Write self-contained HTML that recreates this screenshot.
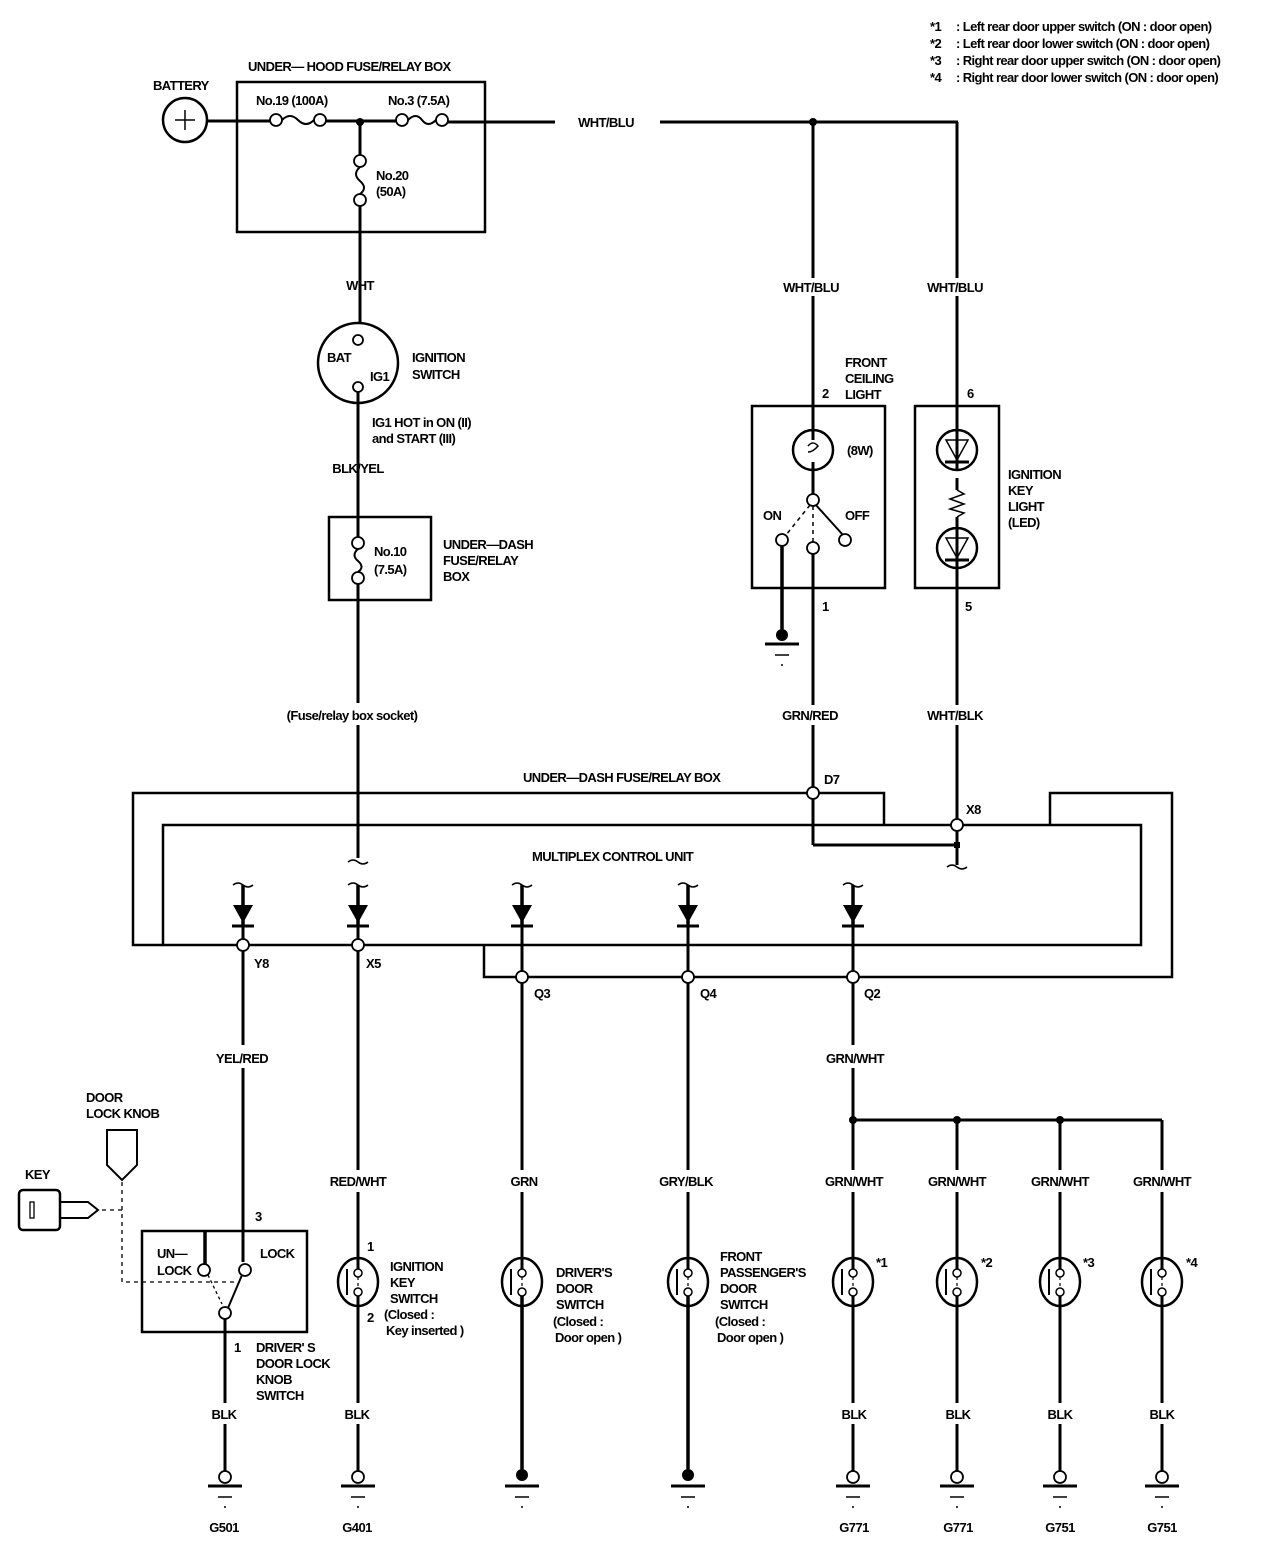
<!DOCTYPE html>
<html><head><meta charset="utf-8"><style>
html,body{margin:0;padding:0;background:#fff}
svg{display:block}
text{font-family:"Liberation Sans",sans-serif;font-weight:bold;font-size:13px;letter-spacing:-0.6px;fill:#000}
.m{text-anchor:middle}
</style></head><body>
<svg width="1264" height="1556" viewBox="0 0 1264 1556" xmlns="http://www.w3.org/2000/svg">
<defs>
 <g id="dsw">
  <ellipse cx="0" cy="0" rx="20" ry="24" fill="none" stroke="#000" stroke-width="2.5"/>
  <line x1="-11" y1="-13" x2="-11" y2="13" stroke="#000" stroke-width="2"/>
  <line x1="0" y1="-5" x2="0" y2="6" stroke="#000" stroke-width="1.2" stroke-dasharray="3,3"/>
  <circle cx="0" cy="-9" r="4" fill="#fff" stroke="#000" stroke-width="1.5"/>
  <circle cx="0" cy="10" r="4" fill="#fff" stroke="#000" stroke-width="1.5"/>
 </g>
 <g id="gnd">
  <line x1="-17" y1="9" x2="17" y2="9" stroke="#000" stroke-width="3"/>
  <line x1="-7" y1="20" x2="7" y2="20" stroke="#000" stroke-width="1.5"/>
  <line x1="-1" y1="30" x2="1" y2="30" stroke="#000" stroke-width="1.5"/>
 </g>
 <g id="diode">
  <path d="M-10,-2 Q-5,-6 0,-2 Q5,2 10,-2" fill="none" stroke="#000" stroke-width="1.5"/>
  <line x1="0" y1="-2" x2="0" y2="40" stroke="#000" stroke-width="3.5"/>
  <polygon points="-10,18 10,18 0,36" fill="#000"/>
  <line x1="-11" y1="39" x2="11" y2="39" stroke="#000" stroke-width="3"/>
 </g>
</defs>
<g stroke="#000" fill="none" stroke-width="3">
 <circle cx="185" cy="120" r="22" stroke-width="2.5"/>
 <line x1="175" y1="120" x2="195" y2="120" stroke-width="1.5"/>
 <line x1="185" y1="110" x2="185" y2="130" stroke-width="1.5"/>
 <rect x="237" y="82" width="248" height="150" stroke-width="2.5"/>
 <line x1="207" y1="121" x2="270" y2="121"/>
 <path d="M282,120 Q290,112 298,120 Q306,128 314,120" stroke-width="2"/>
 <line x1="326" y1="121" x2="396" y2="121"/>
 <path d="M408,120 Q416,112 422,120 Q428,128 436,120" stroke-width="2"/>
 <line x1="448" y1="122" x2="555" y2="122"/>
 <line x1="660" y1="122" x2="958" y2="122"/>
 <line x1="360" y1="121" x2="360" y2="155"/>
 <path d="M360,167 Q352,174 360,181 Q368,188 360,194" stroke-width="2"/>
 <line x1="360" y1="206" x2="360" y2="322"/>
 <circle cx="358" cy="363" r="40" stroke-width="2.5"/>
 <line x1="358" y1="382" x2="358" y2="517"/>
 <rect x="329" y="517" width="102" height="83" stroke-width="2.5"/>
 <line x1="358" y1="517" x2="358" y2="537"/>
 <path d="M358,549 Q351,555 358,561 Q365,567 358,572" stroke-width="2"/>
 <line x1="358" y1="584" x2="358" y2="703"/>
 <line x1="358" y1="725" x2="358" y2="858"/>
 <path d="M348,862 Q353,858 358,862 Q363,866 368,862" stroke-width="1.5"/>
 <line x1="813" y1="122" x2="813" y2="278"/>
 <line x1="813" y1="296" x2="813" y2="440"/>
 <rect x="752" y="406" width="133" height="182" stroke-width="2.5"/>
 <circle cx="813" cy="450" r="20" stroke-width="2.5"/>
 <path d="M808,446 Q813,440 818,446 Q813,452 808,452" stroke-width="1.5"/>
 <line x1="813" y1="462" x2="813" y2="494"/>
 <line x1="815" y1="504" x2="843" y2="535" stroke-width="2"/>
 <line x1="810" y1="505" x2="786" y2="535" stroke-width="1.5" stroke-dasharray="4,4"/>
 <line x1="813" y1="506" x2="813" y2="543" stroke-width="1.5" stroke-dasharray="4,4"/>
 <line x1="782" y1="545" x2="782" y2="635" stroke-width="3.5"/>
 <line x1="813" y1="553" x2="813" y2="705"/>
 <line x1="813" y1="725" x2="813" y2="845"/>
 <line x1="813" y1="845" x2="958" y2="845"/>
 <line x1="957" y1="122" x2="957" y2="278"/>
 <line x1="957" y1="296" x2="957" y2="470"/>
 <rect x="915" y="406" width="84" height="182" stroke-width="2.5"/>
 <line x1="957" y1="478" x2="957" y2="490"/>
 <path d="M957,490 L964,494 L950,499 L964,504 L950,509 L964,513 L957,517" stroke-width="1.5"/>
 <line x1="957" y1="517" x2="957" y2="705"/>
 <line x1="957" y1="725" x2="957" y2="865"/>
 <path d="M947,867 Q952,863 957,867 Q962,871 967,867" stroke-width="1.5"/>
 <path d="M884,825 L884,793 L133,793 L133,945 L163,945" stroke-width="2.5"/>
 <path d="M1050,825 L1050,793 L1172,793 L1172,977 L484,977 L484,945" stroke-width="2.5"/>
 <rect x="163" y="825" width="978" height="120" stroke-width="2.5"/>
 <line x1="243" y1="927" x2="243" y2="1045"/>
 <line x1="243" y1="1068" x2="243" y2="1262"/>
 <line x1="358" y1="927" x2="358" y2="1170"/>
 <line x1="358" y1="1192" x2="358" y2="1270"/>
 <line x1="522" y1="927" x2="522" y2="1170"/>
 <line x1="522" y1="1192" x2="522" y2="1270"/>
 <line x1="688" y1="927" x2="688" y2="1170"/>
 <line x1="688" y1="1192" x2="688" y2="1270"/>
 <line x1="853" y1="927" x2="853" y2="1045"/>
 <line x1="853" y1="1068" x2="853" y2="1170"/>
 <line x1="853" y1="1192" x2="853" y2="1270"/>
 <line x1="853" y1="1120" x2="1162" y2="1120"/>
 <line x1="957" y1="1120" x2="957" y2="1170"/><line x1="957" y1="1192" x2="957" y2="1270"/>
 <line x1="1060" y1="1120" x2="1060" y2="1170"/><line x1="1060" y1="1192" x2="1060" y2="1270"/>
 <line x1="1162" y1="1120" x2="1162" y2="1170"/><line x1="1162" y1="1192" x2="1162" y2="1270"/>
 <line x1="225" y1="1318" x2="225" y2="1403"/><line x1="225" y1="1424" x2="225" y2="1472"/>
 <line x1="358" y1="1294" x2="358" y2="1403"/><line x1="358" y1="1424" x2="358" y2="1472"/>
 <line x1="522" y1="1294" x2="522" y2="1475" stroke-width="3.5"/>
 <line x1="688" y1="1294" x2="688" y2="1475" stroke-width="3.5"/>
 <line x1="853" y1="1294" x2="853" y2="1403"/><line x1="853" y1="1424" x2="853" y2="1472"/>
 <line x1="957" y1="1294" x2="957" y2="1403"/><line x1="957" y1="1424" x2="957" y2="1472"/>
 <line x1="1060" y1="1294" x2="1060" y2="1403"/><line x1="1060" y1="1424" x2="1060" y2="1472"/>
 <line x1="1162" y1="1294" x2="1162" y2="1403"/><line x1="1162" y1="1424" x2="1162" y2="1472"/>
 <rect x="142" y="1231" width="165" height="101" stroke-width="2.5"/>
 <line x1="205" y1="1231" x2="205" y2="1265" stroke-width="3.5"/>
 <line x1="228" y1="1308" x2="242" y2="1275" stroke-width="2"/>
 <line x1="208" y1="1275" x2="222" y2="1304" stroke-width="1.3" stroke-dasharray="3,3"/>
 <path d="M107,1130 L137,1130 L137,1165 L122,1180 L107,1165 Z" stroke-width="2"/>
 <path d="M122,1182 L122,1282 L235,1282" stroke-width="1.3" stroke-dasharray="4,4"/>
 <line x1="102" y1="1210" x2="122" y2="1210" stroke-width="1.3" stroke-dasharray="4,4"/>
 <rect x="19" y="1190" width="41" height="40" rx="4" stroke-width="2.5"/>
 <rect x="30" y="1202" width="4" height="16" stroke-width="1.3"/>
 <path d="M60,1202 L88,1202 L98,1210 L88,1218 L60,1218" stroke-width="2"/>
</g>
<g fill="#fff" stroke="#000" stroke-width="1.8">
 <circle cx="276" cy="120" r="6"/><circle cx="320" cy="120" r="6"/>
 <circle cx="402" cy="120" r="6"/><circle cx="442" cy="120" r="6"/>
 <circle cx="360" cy="161" r="6"/><circle cx="360" cy="200" r="6"/>
 <circle cx="358" cy="340" r="5"/><circle cx="358" cy="387" r="5"/>
 <circle cx="358" cy="543" r="6"/><circle cx="358" cy="578" r="6"/>
 <circle cx="813" cy="500" r="6"/><circle cx="782" cy="540" r="6"/>
 <circle cx="845" cy="540" r="6"/><circle cx="813" cy="548" r="6"/>
 <circle cx="813" cy="793" r="6"/><circle cx="957" cy="825" r="6"/>
 <circle cx="243" cy="945" r="6"/><circle cx="358" cy="945" r="6"/>
 <circle cx="522" cy="977" r="6"/><circle cx="688" cy="977" r="6"/><circle cx="853" cy="977" r="6"/>
 <circle cx="204" cy="1270" r="6"/><circle cx="245" cy="1270" r="6"/><circle cx="225" cy="1313" r="6"/>
 <circle cx="225" cy="1477" r="6"/><circle cx="358" cy="1477" r="6"/>
 <circle cx="853" cy="1477" r="6"/><circle cx="957" cy="1477" r="6"/>
 <circle cx="1060" cy="1477" r="6"/><circle cx="1162" cy="1477" r="6"/>
</g>
<g fill="#000">
 <circle cx="360" cy="122" r="4"/><circle cx="813" cy="122" r="4"/>
 <circle cx="782" cy="635" r="6"/>
 <rect x="954" y="842" width="6" height="6"/>
 <circle cx="853" cy="1120" r="4"/><circle cx="957" cy="1120" r="4"/><circle cx="1060" cy="1120" r="4"/>
 <circle cx="522" cy="1475" r="6"/><circle cx="688" cy="1475" r="6"/>
</g>
<g stroke="#000" fill="none" stroke-width="2.5">
 <circle cx="957" cy="450" r="20"/><circle cx="957" cy="548" r="20"/>
</g>
<g stroke="#000" stroke-width="1.5" fill="none">
 <polygon points="946,440 968,440 957,460"/><polygon points="946,538 968,538 957,558"/>
</g>
<g stroke="#000" stroke-width="3">
 <line x1="945" y1="462" x2="969" y2="462"/><line x1="945" y1="560" x2="969" y2="560"/>
 <line x1="957" y1="430" x2="957" y2="462"/><line x1="957" y1="528" x2="957" y2="560"/>
</g>
<use href="#gnd" x="782" y="635"/>
<use href="#diode" x="243" y="887"/><use href="#diode" x="358" y="887"/>
<use href="#diode" x="522" y="887"/><use href="#diode" x="688" y="887"/><use href="#diode" x="853" y="887"/>
<g fill="none">
<use href="#dsw" x="358" y="1282"/><use href="#dsw" x="522" y="1282"/><use href="#dsw" x="688" y="1282"/>
<use href="#dsw" x="853" y="1282"/><use href="#dsw" x="957" y="1282"/><use href="#dsw" x="1060" y="1282"/><use href="#dsw" x="1162" y="1282"/>
</g>
<use href="#gnd" x="225" y="1477"/><use href="#gnd" x="358" y="1477"/>
<use href="#gnd" x="522" y="1477"/><use href="#gnd" x="688" y="1477"/>
<use href="#gnd" x="853" y="1477"/><use href="#gnd" x="957" y="1477"/>
<use href="#gnd" x="1060" y="1477"/><use href="#gnd" x="1162" y="1477"/>
<text x="930" y="31">*1</text><text x="956" y="31">:  Left rear door upper switch (ON : door open)</text>
<text x="930" y="48">*2</text><text x="956" y="48">:  Left rear door lower switch (ON : door open)</text>
<text x="930" y="65">*3</text><text x="956" y="65">:  Right rear door upper switch (ON : door open)</text>
<text x="930" y="82">*4</text><text x="956" y="82">:  Right rear door lower switch (ON : door open)</text>
<text x="248" y="71">UNDER— HOOD FUSE/RELAY BOX</text>
<text x="153" y="90">BATTERY</text>
<text x="256" y="105">No.19 (100A)</text>
<text x="388" y="105">No.3 (7.5A)</text>
<text class="m" x="606" y="127">WHT/BLU</text>
<text x="376" y="180">No.20</text><text x="376" y="196">(50A)</text>
<text class="m" x="360" y="290">WHT</text>
<text x="327" y="362">BAT</text><text x="370" y="381">IG1</text>
<text x="412" y="362">IGNITION</text><text x="412" y="379">SWITCH</text>
<text x="372" y="427">IG1 HOT in ON (II)</text><text x="372" y="443">and START (III)</text>
<text class="m" x="358" y="473">BLK/YEL</text>
<text x="374" y="556">No.10</text><text x="374" y="574">(7.5A)</text>
<text x="443" y="549">UNDER—DASH</text><text x="443" y="565">FUSE/RELAY</text><text x="443" y="581">BOX</text>
<text class="m" x="352" y="720">(Fuse/relay box socket)</text>
<text class="m" x="811" y="292">WHT/BLU</text><text class="m" x="955" y="292">WHT/BLU</text>
<text x="845" y="367">FRONT</text><text x="845" y="383">CEILING</text><text x="845" y="399">LIGHT</text>
<text x="822" y="398">2</text><text x="967" y="398">6</text>
<text x="847" y="455">(8W)</text>
<text x="763" y="520">ON</text><text x="845" y="520">OFF</text>
<text x="1008" y="479">IGNITION</text><text x="1008" y="495">KEY</text><text x="1008" y="511">LIGHT</text><text x="1008" y="527">(LED)</text>
<text x="822" y="611">1</text><text x="965" y="611">5</text>
<text class="m" x="810" y="720">GRN/RED</text><text class="m" x="955" y="720">WHT/BLK</text>
<text x="523" y="782">UNDER—DASH FUSE/RELAY BOX</text>
<text x="824" y="784">D7</text><text x="966" y="814">X8</text>
<text x="532" y="861">MULTIPLEX CONTROL UNIT</text>
<text x="254" y="968">Y8</text><text x="366" y="968">X5</text>
<text x="534" y="998">Q3</text><text x="700" y="998">Q4</text><text x="864" y="998">Q2</text>
<text class="m" x="242" y="1063">YEL/RED</text><text class="m" x="855" y="1063">GRN/WHT</text>
<text x="86" y="1102">DOOR</text><text x="86" y="1118">LOCK KNOB</text>
<text x="25" y="1179">KEY</text>
<text class="m" x="358" y="1186">RED/WHT</text><text class="m" x="524" y="1186">GRN</text>
<text class="m" x="686" y="1186">GRY/BLK</text><text class="m" x="854" y="1186">GRN/WHT</text>
<text class="m" x="957" y="1186">GRN/WHT</text><text class="m" x="1060" y="1186">GRN/WHT</text><text class="m" x="1162" y="1186">GRN/WHT</text>
<text x="255" y="1221">3</text>
<text x="157" y="1258">UN—</text><text x="157" y="1275">LOCK</text><text x="260" y="1258">LOCK</text>
<text x="367" y="1251">1</text><text x="367" y="1322">2</text>
<text x="390" y="1271">IGNITION</text><text x="390" y="1287">KEY</text><text x="390" y="1303">SWITCH</text>
<text x="384" y="1319">(Closed :</text><text x="386" y="1335">Key inserted  )</text>
<text x="556" y="1277">DRIVER'S</text><text x="556" y="1293">DOOR</text><text x="556" y="1309">SWITCH</text>
<text x="553" y="1326">(Closed :</text><text x="555" y="1342">Door open  )</text>
<text x="720" y="1261">FRONT</text><text x="720" y="1277">PASSENGER'S</text><text x="720" y="1293">DOOR</text><text x="720" y="1309">SWITCH</text>
<text x="715" y="1326">(Closed :</text><text x="717" y="1342">Door open  )</text>
<text x="876" y="1267">*1</text><text x="981" y="1267">*2</text><text x="1083" y="1267">*3</text><text x="1186" y="1267">*4</text>
<text x="234" y="1352">1</text>
<text x="256" y="1352">DRIVER' S</text><text x="256" y="1368">DOOR LOCK</text><text x="256" y="1384">KNOB</text><text x="256" y="1400">SWITCH</text>
<text class="m" x="224" y="1419">BLK</text><text class="m" x="357" y="1419">BLK</text>
<text class="m" x="854" y="1419">BLK</text><text class="m" x="958" y="1419">BLK</text><text class="m" x="1060" y="1419">BLK</text><text class="m" x="1162" y="1419">BLK</text>
<text class="m" x="224" y="1532">G501</text><text class="m" x="357" y="1532">G401</text>
<text class="m" x="854" y="1532">G771</text><text class="m" x="958" y="1532">G771</text><text class="m" x="1060" y="1532">G751</text><text class="m" x="1162" y="1532">G751</text>
</svg>
</body></html>
